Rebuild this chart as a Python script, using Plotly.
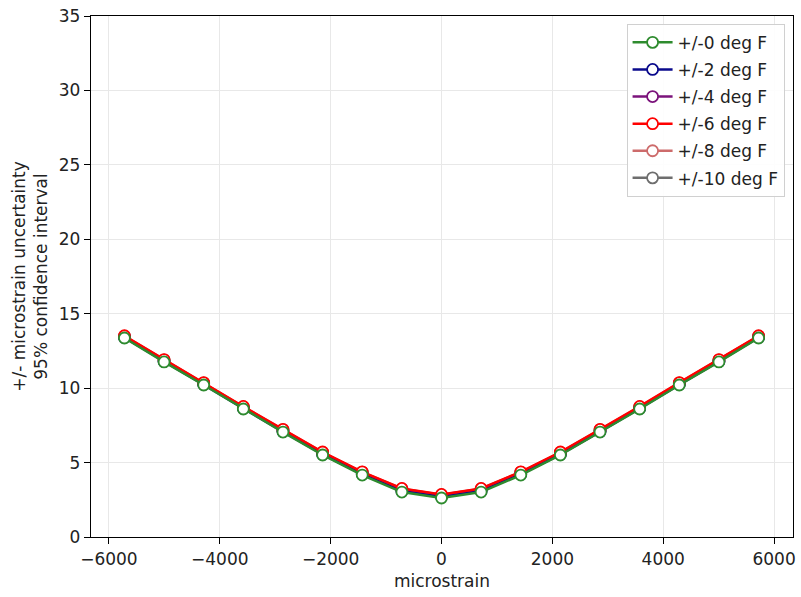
import plotly.graph_objects as go

# Strain levels (microstrain)
strain = [-5720, -5005, -4290, -3575, -2860, -2145, -1430, -715, 0,
          715, 1430, 2145, 2860, 3575, 4290, 5005, 5720]

# 95% confidence uncertainty (+/- microstrain) for each temperature tolerance
unc_0 = [13.37, 11.76, 10.21, 8.60, 7.05, 5.51, 4.16, 3.02, 2.62,
         3.02, 4.16, 5.51, 7.05, 8.60, 10.21, 11.76, 13.37]
unc_2 = [13.40, 11.79, 10.24, 8.63, 7.08, 5.55, 4.21, 3.08, 2.69,
         3.08, 4.21, 5.55, 7.08, 8.63, 10.24, 11.79, 13.40]
unc_4 = [13.44, 11.83, 10.29, 8.68, 7.13, 5.61, 4.27, 3.15, 2.76,
         3.15, 4.27, 5.61, 7.13, 8.68, 10.29, 11.83, 13.44]
unc_6 = [13.52, 11.92, 10.37, 8.77, 7.23, 5.71, 4.38, 3.26, 2.86,
         3.26, 4.38, 5.71, 7.23, 8.77, 10.37, 11.92, 13.52]
unc_8 = [13.50, 11.90, 10.35, 8.75, 7.21, 5.69, 4.36, 3.24, 2.84,
         3.24, 4.36, 5.69, 7.21, 8.75, 10.35, 11.90, 13.50]
unc_10 = [13.48, 11.88, 10.33, 8.73, 7.19, 5.67, 4.34, 3.22, 2.82,
          3.22, 4.34, 5.67, 7.19, 8.73, 10.33, 11.88, 13.48]

labels = ["+/-0 deg F", "+/-2 deg F", "+/-4 deg F",
          "+/-6 deg F", "+/-8 deg F", "+/-10 deg F"]
colors = ["#2e8b2e", "#0a0a8c", "#7b137b", "#ff0000", "#cd6b6b", "#6e6e6e"]
series = [unc_0, unc_2, unc_4, unc_6, unc_8, unc_10]

x_ticks = [-6000, -4000, -2000, 0, 2000, 4000, 6000]
y_ticks = [0, 5, 10, 15, 20, 25, 30, 35]

fig = go.Figure()
# draw widest tolerance first so the +/-0 curve sits on top
draw_order = [5, 4, 2, 1, 3, 0]
for i in draw_order:
    fig.add_trace(go.Scatter(
        x=strain, y=series[i], name=labels[i], mode="lines+markers",
        legendgroup=labels[i], legendrank=i + 1,
        line=dict(color=colors[i], width=2.5),
        marker=dict(symbol="circle", size=11, color="white",
                    line=dict(color=colors[i], width=1.8)),
    ))

axis_font = dict(family="DejaVu Sans", size=17, color="#222")
fig.update_layout(
    width=801, height=597,
    margin=dict(l=91, r=5, t=16, b=60),
    paper_bgcolor="white", plot_bgcolor="white",
    font=dict(family="DejaVu Sans", size=17, color="#222"),
    showlegend=True,
    legend=dict(x=0.988, y=0.985, xanchor="right", yanchor="top",
                bgcolor="rgba(255,255,255,0.9)", bordercolor="#d0d0d0",
                borderwidth=1, font=dict(family="DejaVu Sans", size=17, color="#222"),
                tracegroupgap=2, itemwidth=40),
    xaxis=dict(range=[-6323, 6341], tickvals=x_ticks,
               ticktext=["\u22126000", "\u22124000", "\u22122000", "0", "2000", "4000", "6000"],
               showgrid=True, gridcolor="#e8e8e8", gridwidth=1,
               showline=True, linecolor="black", linewidth=1.4, mirror=True,
               ticks="outside", ticklen=6, tickcolor="black", tickfont=axis_font,
               zeroline=False,
               title=dict(text="microstrain", font=axis_font, standoff=7)),
    yaxis=dict(range=[0, 35], tickvals=y_ticks,
               showgrid=True, gridcolor="#e8e8e8", gridwidth=1,
               showline=True, linecolor="black", linewidth=1.4, mirror=True,
               ticks="outside", ticklen=6, tickcolor="black", tickfont=axis_font,
               zeroline=False,
               title=dict(text="+/- microstrain uncertainty<br>95% confidence interval",
                          font=axis_font, standoff=6)),
)

fig.write_html("out.html")
